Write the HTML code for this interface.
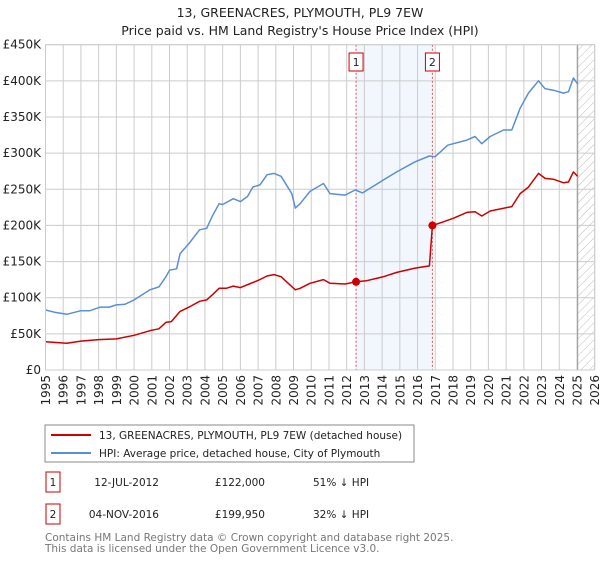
<!DOCTYPE html>
<html><head><meta charset="utf-8">
<style>
body{margin:0;background:#fff;font-family:"Liberation Sans","DejaVu Sans",sans-serif;}
svg text{font-family:"DejaVu Sans","Liberation Sans",sans-serif;}
</style></head>
<body>
<svg id="chart" width="600" height="560" viewBox="0 0 600 560" xmlns="http://www.w3.org/2000/svg">
<defs>
<pattern id="hatch" width="6" height="6" patternUnits="userSpaceOnUse" patternTransform="rotate(45)">
<line x1="0" y1="0" x2="0" y2="6" stroke="#bbb" stroke-width="1"/>
</pattern>
</defs>
<text x="300" y="17" text-anchor="middle" font-size="12.5" fill="#222">13, GREENACRES, PLYMOUTH, PL9 7EW</text>
<text x="300" y="35" text-anchor="middle" font-size="12.5" fill="#222">Price paid vs. HM Land Registry's House Price Index (HPI)</text>
<g id="grid"></g>
<g id="marks"></g>
<g id="axes"></g>
<g>
<rect x="45" y="425" width="369" height="37" fill="#fff" stroke="#888"/>
<line x1="51" y1="435" x2="91" y2="435" stroke="#cc0000" stroke-width="2"/>
<text x="99" y="439" font-size="10.5" fill="#222">13, GREENACRES, PLYMOUTH, PL9 7EW (detached house)</text>
<line x1="51" y1="453" x2="91" y2="453" stroke="#5b8fd4" stroke-width="2"/>
<text x="99" y="457" font-size="10.5" fill="#222">HPI: Average price, detached house, City of Plymouth</text>
</g>
<g>
<rect x="46" y="472" width="14" height="20" fill="#fff" stroke="#cc0000"/>
<text x="53" y="486" text-anchor="middle" font-size="10.5" fill="#222">1</text>
<text x="159" y="486" text-anchor="end" font-size="10.5" fill="#222">12-JUL-2012</text>
<text x="265" y="486" text-anchor="end" font-size="10.5" fill="#222">£122,000</text>
<text x="313" y="486" font-size="10.5" fill="#222">51% ↓ HPI</text>
<rect x="46" y="504" width="14" height="20" fill="#fff" stroke="#cc0000"/>
<text x="53" y="518" text-anchor="middle" font-size="10.5" fill="#222">2</text>
<text x="159" y="518" text-anchor="end" font-size="10.5" fill="#222">04-NOV-2016</text>
<text x="265" y="518" text-anchor="end" font-size="10.5" fill="#222">£199,950</text>
<text x="313" y="518" font-size="10.5" fill="#222">32% ↓ HPI</text>
</g>
<text x="45" y="541" font-size="10.5" fill="#777">Contains HM Land Registry data © Crown copyright and database right 2025.</text>
<text x="45" y="552" font-size="10.5" fill="#777">This data is licensed under the Open Government Licence v3.0.</text>
</svg>
<script>
const hpiYears=[1995.0,1995.5,1996.2,1997.0,1997.5,1998.1,1998.6,1999.0,1999.5,2000.0,2000.9,2001.4,2001.8,2002.0,2002.4,2002.6,2003.1,2003.7,2004.1,2004.4,2004.8,2005.0,2005.6,2006.0,2006.4,2006.7,2007.1,2007.5,2007.9,2008.3,2008.7,2008.9,2009.1,2009.37,2009.93,2010.69,2011.06,2011.91,2012.48,2012.9,2014.08,2014.83,2015.86,2016.67,2016.99,2017.7,2018.78,2019.25,2019.63,2020.1,2020.85,2021.32,2021.79,2022.26,2022.83,2023.2,2023.67,2024.24,2024.52,2024.8,2025.03];
const hpiValues=[83,80,77,82,82,87,87,90,91,97,111,115,129,138,140,161,175,194,196,212,230,229,237,233,240,253,256,270,272,268,252,244,224,230,247,258,244,242,249,245,263,274,288,296,295,311,318,323,313,323,332,332,362,383,400,389,387,383,385,404,396];
const priceYears=[1995.0,1996.2,1997.0,1998.0,1999.0,2000.0,2001.0,2001.4,2001.8,2002.1,2002.6,2003.1,2003.7,2004.1,2004.5,2004.8,2005.2,2005.6,2006.0,2006.5,2007.0,2007.5,2007.9,2008.3,2008.7,2009.1,2009.37,2009.93,2010.69,2011.06,2011.91,2012.53,2013.13,2014.08,2014.83,2015.86,2016.67,2016.84,2017.46,2018.03,2018.78,2019.25,2019.63,2020.1,2021.32,2021.79,2022.26,2022.83,2023.2,2023.67,2024.24,2024.52,2024.8,2025.03];
const priceValues=[39,37,40,42,43,48,55,57,66,67,81,87,95,97,106,113,113,116,114,119,124,130,132,129,120,111,113,120,125,120,119,122,123.5,129,135,141,144,199.95,205,210,218,219,213,220,226,244,253,272,265,264,259,260,274,268];
const saleLabels=["1","2"];
const saleYears=[2012.53,2016.84];
const saleValues=[122,199.95];
const yTicks=[0,50,100,150,200,250,300,350,400,450];
const yTickLabels=["£0","£50K","£100K","£150K","£200K","£250K","£300K","£350K","£400K","£450K"];
const xTicks=[1995,1996,1997,1998,1999,2000,2001,2002,2003,2004,2005,2006,2007,2008,2009,2010,2011,2012,2013,2014,2015,2016,2017,2018,2019,2020,2021,2022,2023,2024,2025,2026];
const forecastStart=2025.04;

const X0=45.5,X1=594.7,Y0=370,Y1=44.7,YMIN=1995,YMAX=2026,VMAX=450;
const xs=y=>X0+(y-YMIN)/(YMAX-YMIN)*(X1-X0);
const ys=v=>Y0-v/VMAX*(Y0-Y1);
const NS="http://www.w3.org/2000/svg";
function mk(tag,attrs,parent,text){const e=document.createElementNS(NS,tag);for(const k in attrs)e.setAttribute(k,attrs[k]);if(text!==undefined)e.textContent=text;parent.appendChild(e);return e;}
const grid=document.getElementById('grid'),marks=document.getElementById('marks'),axes=document.getElementById('axes');

const shade=mk('rect',{x:xs(saleYears[0]),y:Y1,width:xs(saleYears[1])-xs(saleYears[0]),height:Y0-Y1,fill:'#f2f6fd'},grid);


const hat=mk('rect',{x:xs(forecastStart),y:Y1,width:X1-xs(forecastStart),height:Y0-Y1,fill:'url(#hatch)'},grid);



yTicks.forEach((t,i)=>{
  const l=mk('line',{x1:X0,x2:X1,y1:ys(t),y2:ys(t),stroke:'#ccc','stroke-width':1},grid);
  
  
  const tx=mk('text',{x:41,y:ys(t)+4,'text-anchor':'end','font-size':12,fill:'#222'},axes,yTickLabels[i]);
  
  
});
xTicks.forEach(t=>{
  const l=mk('line',{x1:xs(t),x2:xs(t),y1:Y1,y2:Y0,stroke:'#ccc','stroke-width':1},grid);
  
  
  const tx=mk('text',{x:0,y:0,'text-anchor':'end','font-size':12,fill:'#222',transform:`translate(${xs(t)+4.5},375) rotate(-90)`},axes,String(t));
  
  
});
const fl=mk('line',{x1:xs(forecastStart),x2:xs(forecastStart),y1:Y1,y2:Y0,stroke:'#999','stroke-width':1},grid);



saleYears.forEach((yr,i)=>{
  const v=mk('line',{x1:xs(yr),x2:xs(yr),y1:Y1,y2:Y0,stroke:'#e05555','stroke-width':1,'stroke-dasharray':'2,2'},marks);
  
  
  const b=mk('rect',{x:xs(yr)-7,y:53,width:14,height:18,fill:'#fff',stroke:'#cc0000'},marks);
  
  
  mk('text',{x:xs(yr),y:66,'text-anchor':'middle','font-size':11,fill:'#222'},marks,saleLabels[i]);
});

function path(years,vals){return years.map((y,i)=>(i?'L':'M')+xs(y).toFixed(1)+','+ys(vals[i]).toFixed(1)).join(' ');}
const hp=mk('path',{d:path(hpiYears,hpiValues),fill:'none',stroke:'#5b8fd4','stroke-width':1.5,'stroke-linejoin':'round'},marks);


const pp=mk('path',{d:path(priceYears,priceValues),fill:'none',stroke:'#cc0000','stroke-width':1.5,'stroke-linejoin':'round'},marks);


saleYears.forEach((yr,i)=>{
  const c=mk('circle',{cx:xs(yr),cy:ys(saleValues[i]),r:4,fill:'#cc0000'},marks);
  
  
});
const frame=mk('rect',{x:X0,y:Y1,width:X1-X0,height:Y0-Y1,fill:'none',stroke:'#ccc'},axes);


</script>
</body></html>
